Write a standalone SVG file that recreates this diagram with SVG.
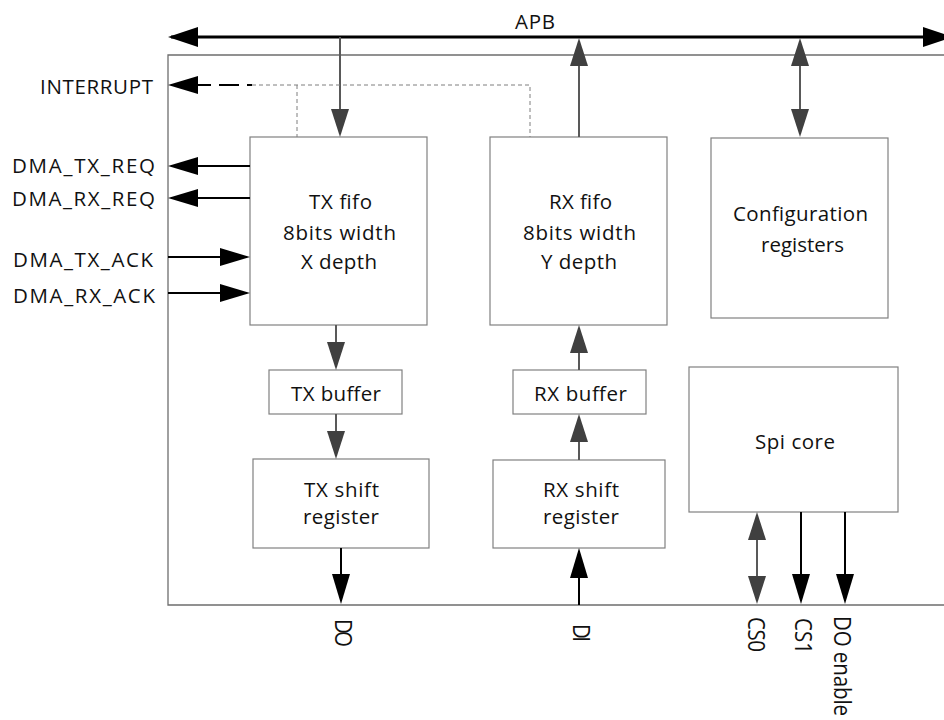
<svg xmlns="http://www.w3.org/2000/svg" width="944" height="720" viewBox="0 0 944 720">
<defs>
<style>
text{font-family:"Open Sans","Noto Sans","Liberation Sans",sans-serif;font-size:20.5px;fill:#111}
.box{fill:#fff;stroke:#808080;stroke-width:1.2}
.blk{stroke:#000;stroke-width:2;fill:none}
.gry{stroke:#595959;stroke-width:2;fill:none}
.rot{font-size:20.5px}
</style>
<marker id="ab" viewBox="0 0 30 18" markerUnits="userSpaceOnUse" markerWidth="30" markerHeight="18" refX="27" refY="9" orient="auto-start-reverse"><path d="M0,0L30,9L0,18z" fill="#000"/></marker>
<marker id="abig" viewBox="0 0 30 20" markerUnits="userSpaceOnUse" markerWidth="30" markerHeight="20" refX="27" refY="10" orient="auto-start-reverse"><path d="M0,0L30,10L0,20z" fill="#000"/></marker>
<marker id="ag" viewBox="0 0 28 18" markerUnits="userSpaceOnUse" markerWidth="28" markerHeight="18" refX="25" refY="9" orient="auto-start-reverse"><path d="M0,0L28,9L0,18z" fill="#404040"/></marker>
</defs>
<rect width="944" height="720" fill="#fff"/>
<g id="outer"><path d="M950,55H168V605H950" fill="none" stroke="#6e6e6e" stroke-width="1.3"/></g>
<g id="tx-fifo"><rect class="box" x="250" y="137" width="177" height="188"/>
<text x="309" y="209" textLength="63">TX fifo</text>
<text x="283" y="240" textLength="113">8bits width</text>
<text x="301" y="269" textLength="76">X depth</text></g>
<g id="rx-fifo"><rect class="box" x="490" y="137" width="177" height="188"/>
<text x="549" y="209" textLength="63">RX fifo</text>
<text x="523" y="240" textLength="113">8bits width</text>
<text x="541" y="269" textLength="76">Y depth</text></g>
<g id="config"><rect class="box" x="711" y="138" width="177" height="180"/>
<text x="733" y="221" textLength="135">Configuration</text>
<text x="761" y="252" textLength="83">registers</text></g>
<g id="tx-buffer"><rect class="box" x="269" y="370" width="133" height="44"/>
<text x="291" y="401" textLength="90">TX buffer</text></g>
<g id="rx-buffer"><rect class="box" x="513" y="370" width="133" height="44"/>
<text x="534" y="401" textLength="93">RX buffer</text></g>
<g id="tx-shift"><rect class="box" x="253" y="459" width="176" height="89"/>
<text x="304" y="497" textLength="75">TX shift</text>
<text x="303" y="524" textLength="76">register</text></g>
<g id="rx-shift"><rect class="box" x="493" y="460" width="172" height="88"/>
<text x="543" y="497" textLength="76">RX shift</text>
<text x="543" y="524" textLength="76">register</text></g>
<g id="spi-core"><rect class="box" x="689" y="367" width="209" height="145"/>
<text x="755" y="449" textLength="80">Spi core</text></g>
<g id="labels">
<text x="515" y="29" textLength="40">APB</text>
<text x="40" y="94" textLength="113">INTERRUPT</text>
<text x="12" y="173" textLength="143">DMA_TX_REQ</text>
<text x="12" y="206" textLength="143">DMA_RX_REQ</text>
<text x="13" y="267" textLength="140">DMA_TX_ACK</text>
<text x="13" y="303" textLength="142">DMA_RX_ACK</text>
<text class="rot" transform="translate(335,619) rotate(90) scale(1,1.15)" textLength="28">DO</text>
<text class="rot" transform="translate(573,624) rotate(90) scale(1,1.15)" textLength="18">DI</text>
<text class="rot" transform="translate(748,617) rotate(90) scale(1,1.15)" textLength="35">CS0</text>
<text class="rot" transform="translate(795,618) rotate(90) scale(1,1.15)" textLength="36">CS1</text>
<text class="rot" transform="translate(834,616) rotate(90) scale(1,1.15)" textLength="100">DO enable</text>
</g>
<g id="connectors">
<line x1="171" y1="37" x2="950" y2="37" stroke="#000" stroke-width="3" marker-start="url(#abig)" marker-end="url(#abig)"/>
<line class="gry" x1="340" y1="37" x2="340" y2="134" marker-end="url(#ag)"/>
<line class="gry" x1="579" y1="137" x2="579" y2="41" marker-end="url(#ag)"/>
<line class="gry" x1="800" y1="41" x2="800" y2="134" marker-start="url(#ag)" marker-end="url(#ag)"/>
<line x1="171" y1="85" x2="252" y2="85" stroke="#000" stroke-width="2" stroke-dasharray="40,8,20,8,14" marker-start="url(#ab)"/>
<path d="M252,85H530V137M297,85V137" fill="none" stroke="#7f7f7f" stroke-width="1" stroke-dasharray="4,3"/>
<line class="blk" x1="250" y1="166" x2="171" y2="166" marker-end="url(#ab)"/>
<line class="blk" x1="250" y1="198" x2="171" y2="198" marker-end="url(#ab)"/>
<line class="blk" x1="168" y1="257" x2="247" y2="257" marker-end="url(#ab)"/>
<line class="blk" x1="168" y1="293" x2="247" y2="293" marker-end="url(#ab)"/>
<line class="gry" x1="336" y1="325" x2="336" y2="367" marker-end="url(#ag)"/>
<line class="gry" x1="336" y1="414" x2="336" y2="456" marker-end="url(#ag)"/>
<line class="gry" x1="579" y1="370" x2="579" y2="328" marker-end="url(#ag)"/>
<line class="gry" x1="579" y1="460" x2="579" y2="417" marker-end="url(#ag)"/>
<line class="blk" x1="341" y1="548" x2="341" y2="601" marker-end="url(#ab)"/>
<line class="blk" x1="579" y1="605" x2="579" y2="551" marker-end="url(#ab)"/>
<line class="gry" x1="757" y1="515" x2="757" y2="601" marker-start="url(#ag)" marker-end="url(#ag)"/>
<line class="blk" x1="801" y1="512" x2="801" y2="601" marker-end="url(#ab)"/>
<line class="blk" x1="845" y1="512" x2="845" y2="601" marker-end="url(#ab)"/>
</g>
</svg>
